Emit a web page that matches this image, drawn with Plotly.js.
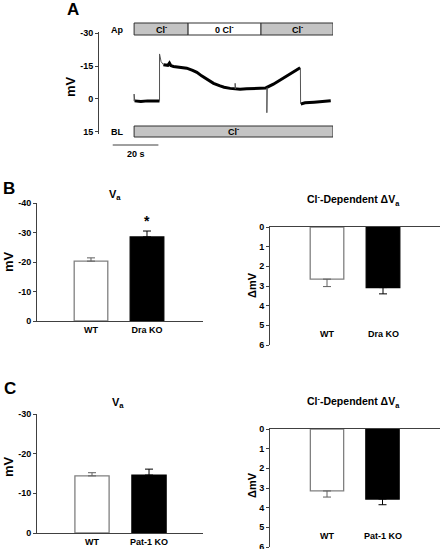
<!DOCTYPE html>
<html><head><meta charset="utf-8">
<script src="https://cdn.plot.ly/plotly-3.0.1.min.js"></script>
<style>html,body{margin:0;padding:0;background:#fff}#chart{width:440px;height:549px}</style>
</head><body><div id="chart"></div>
<script>
// ---------- Panel A : voltage trace (time in s, Va in mV) ----------
const traceTime = [0.2, 1.5, 3, 6, 9, 11.3, null, 13, 15, 15.7, 16.3, 17.5, 20, 23.4, 26, 27.9, 30, 32.3, 35.3, 38.2, 40, 42.7, 44.9, 47.1, 50, 53, 56, 58.5, 61.9, 64.9, 67.9, 70.8, 73.8, null, 74.1, 76, 80, 84, 87.4];
const traceMv   = [0.9, 1.1, 1.2, 0.9, 1.1, 1.0, null, -15.6, -15.3, -16.3, -15.2, -14.8, -14.6, -14.0, -13.0, -12.1, -10.5, -8.9, -7.1, -5.9, -5.3, -4.8, -4.6, -4.4, -4.6, -4.8, -4.8, -5.0, -6.7, -8.6, -10.6, -12.4, -14.2, null, 2.3, 1.8, 1.5, 1.2, 0.8];
const transientTime = [0, 0, 0.3, null, 11.3, 11.3, 12, 13, null, 44.9, 44.9, 45.1, null, 59, 59, 59.2, null, 73.9, 74.0];
const transientMv   = [1.0, -2.2, 0.9, null, 1.0, -20.5, -17, -15.6, null, -4.6, -7.1, -4.6, null, -5.0, 6.3, -5.2, null, -14.2, 2.3];
const apSegments = [{label: 'Cl<sup>-</sup>', t0: 0, t1: 24.0}, {label: '0 Cl<sup>-</sup>', t0: 24.0, t1: 56.4}, {label: 'Cl<sup>-</sup>', t0: 56.4, t1: 88.4}];
const blSegments = [{label: 'Cl<sup>-</sup>', t0: 0, t1: 88.4}];
const scaleBar = {t0: -9.5, t1: 10.8, label: '20 s'};
const aTicks = [-30, -15, 0, 15];

// ---------- Panel B ----------
const bCats = ['WT', 'Dra KO'];
const bVa = [-20.3, -28.5];
const bVaErr = [1.1, 2.0];
const bDelta = [2.65, 3.08];
const bDeltaErr = [0.38, 0.32];
const bVaTicks = [-40, -30, -20, -10, 0];

// ---------- Panel C ----------
const cCats = ['WT', 'Pat-1 KO'];
const cVa = [-14.4, -14.6];
const cVaErr = [0.8, 1.5];
const cDelta = [3.15, 3.56];
const cDeltaErr = [0.31, 0.29];
const cVaTicks = [-30, -20, -10, 0];
const deltaTicks = [0, 1, 2, 3, 4, 5, 6];

const FONT = 'Liberation Sans, Arial, sans-serif';
const W = 440, H = 549;
const px = v => v / W;
const py = v => 1 - v / H;
const barFill = ['#ffffff', '#000000'];
const barLine = ['#808080', '#000000'];
const errCol = ['#606060', '#000000'];

const data = [
  {type: 'scatter', mode: 'lines', x: traceTime, y: traceMv, xaxis: 'x', yaxis: 'y',
   line: {color: '#000', width: 3}, connectgaps: false, hoverinfo: 'skip'},
  {type: 'scatter', mode: 'lines', x: transientTime, y: transientMv, xaxis: 'x', yaxis: 'y',
   line: {color: '#555', width: 1}, connectgaps: false, hoverinfo: 'skip'}
];

function bars(cats, vals, errs, xa, ya, negative) {
  cats.forEach((c, i) => {
    data.push({
      type: 'bar', x: [c], y: [vals[i]], xaxis: xa, yaxis: ya, width: 0.6,
      marker: {color: barFill[i], line: {color: barLine[i], width: 1.3}},
      error_y: negative
        ? {type: 'data', symmetric: false, array: [0], arrayminus: [errs[i]], color: errCol[i], thickness: 1, width: 4}
        : {type: 'data', symmetric: false, array: [errs[i]], arrayminus: [0], color: errCol[i], thickness: 1, width: 4},
      hoverinfo: 'skip'
    });
  });
}
bars(bCats, bVa, bVaErr, 'x2', 'y2', true);
bars(bCats, bDelta, bDeltaErr, 'x3', 'y3', false);
bars(cCats, cVa, cVaErr, 'x4', 'y4', true);
bars(cCats, cDelta, cDeltaErr, 'x5', 'y5', false);

const tickFont = {family: FONT, size: 9, color: '#000', weight: 'bold'};
const yBase = {showline: true, linecolor: '#404040', linewidth: 1, ticks: 'outside', ticklen: 3,
  tickcolor: '#404040', tickfont: tickFont, showgrid: false, zeroline: false, fixedrange: true,
  tickmode: 'array', ticklabeloverflow: 'allow'};
const yTicks = vals => ({tickvals: vals, ticktext: vals.map(v => String(v))});
const xLeft = cats => ({type: 'category', categoryarray: cats, categoryorder: 'array', showline: true,
  linecolor: '#404040', linewidth: 1, ticks: '', tickfont: tickFont, showgrid: false, zeroline: false, fixedrange: true});
const xRight = cats => ({type: 'category', categoryarray: cats, categoryorder: 'array', side: 'top', showline: true,
  linecolor: '#404040', linewidth: 1, ticks: '', showticklabels: false, showgrid: false, zeroline: false, fixedrange: true});

const layout = {
  width: W, height: H, margin: {l: 0, r: 0, t: 0, b: 0},
  paper_bgcolor: '#fff', plot_bgcolor: 'rgba(0,0,0,0)', showlegend: false, barmode: 'overlay',
  font: {family: FONT, color: '#000'},
  xaxis: {domain: [px(99), px(333)], range: [-15.6, 88.4], visible: false, fixedrange: true},
  yaxis: Object.assign({}, yBase, yTicks(aTicks), {domain: [py(134), py(32)], range: [16, -30.5], anchor: 'x'}),
  xaxis2: Object.assign(xLeft(bCats), {domain: [px(37), px(203)], range: [-0.964, 2.0], anchor: 'y2'}),
  yaxis2: Object.assign({}, yBase, yTicks(bVaTicks), {domain: [py(321), py(203)], range: [0, -40], anchor: 'x2'}),
  xaxis3: Object.assign(xRight(bCats), {domain: [px(270), 1], range: [-1.018, 2.018], anchor: 'y3'}),
  yaxis3: Object.assign({}, yBase, yTicks(deltaTicks), {domain: [py(345), py(227)], range: [6, 0], anchor: 'x3'}),
  xaxis4: Object.assign(xLeft(cCats), {domain: [px(37), px(203)], range: [-0.965, 1.947], anchor: 'y4'}),
  yaxis4: Object.assign({}, yBase, yTicks(cVaTicks), {domain: [py(533), py(414)], range: [0, -30], anchor: 'x4'}),
  xaxis5: Object.assign(xRight(cCats), {domain: [px(270), 1], range: [-1.027, 2.036], anchor: 'y5'}),
  yaxis5: Object.assign({}, yBase, yTicks(deltaTicks), {domain: [py(547), py(429)], range: [6, 0], anchor: 'x5'}),
  shapes: [], annotations: []
};

// Solution bars (Ap / BL)
function solBar(segs, yTop, yBot) {
  segs.forEach(s => {
    layout.shapes.push({type: 'rect', xref: 'x', yref: 'paper', x0: s.t0, x1: s.t1, y0: py(yBot), y1: py(yTop),
      fillcolor: s.label.startsWith('0') ? '#ffffff' : '#c4c4c4', line: {color: '#303030', width: 1}});
    layout.annotations.push({xref: 'x', yref: 'paper', x: (s.t0 + s.t1) / 2, y: py((yTop + yBot) / 2),
      text: '<b>' + s.label + '</b>', showarrow: false, font: {size: 9, family: FONT}, xanchor: 'center', yanchor: 'middle'});
  });
}
solBar(apSegments, 23, 35);
solBar(blSegments, 126, 137);
layout.shapes.push({type: 'line', xref: 'x', yref: 'paper', x0: scaleBar.t0, x1: scaleBar.t1, y0: py(145), y1: py(145),
  line: {color: '#404040', width: 1}});
layout.annotations.push({xref: 'x', yref: 'paper', x: (scaleBar.t0 + scaleBar.t1) / 2, y: py(154), text: '<b>' + scaleBar.label + '</b>',
  showarrow: false, font: {size: 9, family: FONT}, xanchor: 'center', yanchor: 'middle'});

const ann = (x, y, text, size, extra) => layout.annotations.push(Object.assign({xref: 'paper', yref: 'paper', x: px(x), y: py(y),
  text: '<b>' + text + '</b>', showarrow: false, font: {size: size, family: FONT, color: '#000'}, xanchor: 'center', yanchor: 'middle'}, extra || {}));

// Panel letters
ann(73, 9, 'A', 17);
ann(9, 188, 'B', 17);
ann(10, 388, 'C', 17);
// Panel A labels
ann(117.5, 30, 'Ap', 9);
ann(117, 132, 'BL', 9);
ann(71, 87, 'mV', 13, {textangle: -90});
// Panel B
ann(115, 195, 'V<sub>a</sub>', 11);
ann(353, 200, 'Cl<sup>-</sup>-Dependent ΔV<sub>a</sub>', 10.5);
ann(8, 262, 'mV', 13, {textangle: -90});
ann(252, 285, 'ΔmV', 11, {textangle: -90});
// Panel C
ann(118, 403, 'V<sub>a</sub>', 11);
ann(353, 402, 'Cl<sup>-</sup>-Dependent ΔV<sub>a</sub>', 10.5);
ann(8, 467, 'mV', 13, {textangle: -90});
ann(252, 485, 'ΔmV', 11, {textangle: -90});

// category labels for the top-axis panels
[[bCats, 'x3', 'y3'], [cCats, 'x5', 'y5']].forEach(([cats, xa, ya]) => {
  cats.forEach((c, i) => layout.annotations.push({xref: xa, yref: ya, x: i, y: 5.45, text: '<b>' + c + '</b>',
    showarrow: false, font: {size: 9, family: FONT}, xanchor: 'center', yanchor: 'middle'}));
});
// significance star
layout.annotations.push({xref: 'x2', yref: 'y2', x: bCats.indexOf('Dra KO'), y: bVa[1] - bVaErr[1], text: '<b>*</b>',
  showarrow: false, font: {size: 14, family: FONT}, xanchor: 'center', yanchor: 'bottom', yshift: 0});

Plotly.newPlot('chart', data, layout, {displayModeBar: false, staticPlot: true});
</script></body></html>
